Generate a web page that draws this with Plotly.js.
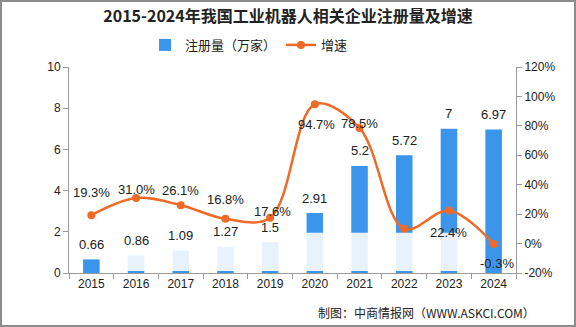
<!DOCTYPE html>
<html>
<head>
<meta charset="utf-8">
<script src="https://cdn.plot.ly/plotly-3.0.1.min.js"></script>
<style>
html,body{margin:0;padding:0;background:#fff;}
#frame{width:576px;height:327px;box-sizing:border-box;border:2px solid #8c8c8c;overflow:hidden;}
#chart{width:572px;height:323px;}
</style>
</head>
<body>
<div id="frame"><div id="chart"></div></div>
<script>
// ---- data ----
const years = ['2015','2016','2017','2018','2019','2020','2021','2022','2023','2024'];
const registrations = [0.66, 0.86, 1.09, 1.27, 1.5, 2.91, 5.2, 5.72, 7, 6.97];
const registrationLabels = ['0.66','0.86','1.09','1.27','1.5','2.91','5.2','5.72','7','6.97'];
const growth = [19.3, 31.0, 26.1, 16.8, 17.6, 94.7, 78.5, 10.0, 22.4, -0.3];
const growthLabels = ['19.3%','31.0%','26.1%','16.8%','17.6%','94.7%','78.5%','','22.4%','-0.3%'];
const leftTicks = [0, 2, 4, 6, 8, 10];
const rightTicks = [-20, 0, 20, 40, 60, 80, 100, 120];
const rightTickLabels = ['-20%','0%','20%','40%','60%','80%','100%','120%'];

// ---- styling / label placement ----
const barColor = '#3b95ea';
const lineColor = '#ef6a26';
const numFont = 'Liberation Sans, DejaVu Sans, sans-serif';
const cjkFont = 'Noto Sans CJK SC, sans-serif';
const growthLabelShift = [23, 8, 15, 19, 6, -20, 5, 0, -22, -19];
const growthLabelXShift = [0, 0, 0, 0, 2, 2, 0, 0, 0, 3];

const annotations = [];
years.forEach((yr, i) => {
  // category axes take the category index for annotation positions
  annotations.push({
    x: i, y: registrations[i], xref: 'x', yref: 'y',
    text: registrationLabels[i], showarrow: false,
    yanchor: 'middle', yshift: 15,
    font: {family: numFont, size: 13, color: '#222'}
  });
  if (growthLabels[i]) {
    annotations.push({
      x: i, y: growth[i], xref: 'x', yref: 'y2',
      text: growthLabels[i], showarrow: false,
      yanchor: 'middle', yshift: growthLabelShift[i], xshift: growthLabelXShift[i],
      font: {family: numFont, size: 13, color: '#222'}
    });
  }
});
annotations.push({
  xref: 'paper', yref: 'paper', x: 1.047, y: -0.19, xanchor: 'right', yanchor: 'middle',
  text: '制图：中商情报网（WWW.ASKCI.COM）', showarrow: false,
  font: {family: cjkFont, size: 12, color: '#222'}
});

const traces = [
  {
    type: 'bar', name: '注册量（万家）', x: years, y: registrations,
    marker: {color: barColor}, width: 0.37, yaxis: 'y'
  },
  {
    type: 'scatter', mode: 'lines+markers', name: '增速', x: years, y: growth,
    yaxis: 'y2', line: {color: lineColor, width: 2.5, shape: 'spline', smoothing: 1},
    marker: {color: lineColor, size: 8}
  }
];

const layout = {
  width: 572, height: 323,
  margin: {l: 67, r: 58, t: 65, b: 52},
  paper_bgcolor: '#fff', plot_bgcolor: 'rgba(0,0,0,0)',
  showlegend: true,
  legend: {
    orientation: 'h', x: 0.17, xanchor: 'left', y: 1.107, yanchor: 'middle',
    font: {family: cjkFont, size: 13, color: '#222'},
    traceorder: 'normal'
  },
  title: {
    text: '<b>2015-2024年我国工业机器人相关企业注册量及增速</b>',
    x: 0.5, xanchor: 'center', y: 0.955, yanchor: 'middle',
    font: {family: cjkFont, size: 16, color: '#222'}
  },
  xaxis: {
    type: 'category', categoryorder: 'array', categoryarray: years,
    range: [-0.5, 9.5],
    showline: true, linecolor: '#9a9a9a', linewidth: 1,
    ticks: 'outside', tickson: 'boundaries', ticklen: 5, tickcolor: '#9a9a9a',
    tickfont: {family: numFont, size: 12, color: '#222'}, showgrid: false
  },
  yaxis: {
    range: [0, 10], tickvals: leftTicks, showline: true, linecolor: '#9a9a9a',
    ticks: 'outside', ticklen: 5, tickcolor: '#9a9a9a', showgrid: false, zeroline: false,
    tickfont: {family: numFont, size: 12, color: '#222'}
  },
  yaxis2: {
    range: [-20, 120], tickvals: rightTicks, ticktext: rightTickLabels,
    overlaying: 'y', side: 'right', showline: true, linecolor: '#9a9a9a',
    ticks: 'outside', ticklen: 5, tickcolor: '#9a9a9a', showgrid: false, zeroline: false,
    tickfont: {family: numFont, size: 12, color: '#222'}
  },
  shapes: [{
    type: 'rect', xref: 'paper', yref: 'paper', x0: 0.07, x1: 0.895, y0: 0.01, y1: 0.195,
    fillcolor: 'rgba(255,255,255,0.88)', line: {width: 0}, layer: 'above'
  }],
  annotations: annotations,
  bargap: 0.6
};

Plotly.newPlot('chart', traces, layout, {displayModeBar: false, staticPlot: true});
</script>
</body>
</html>
